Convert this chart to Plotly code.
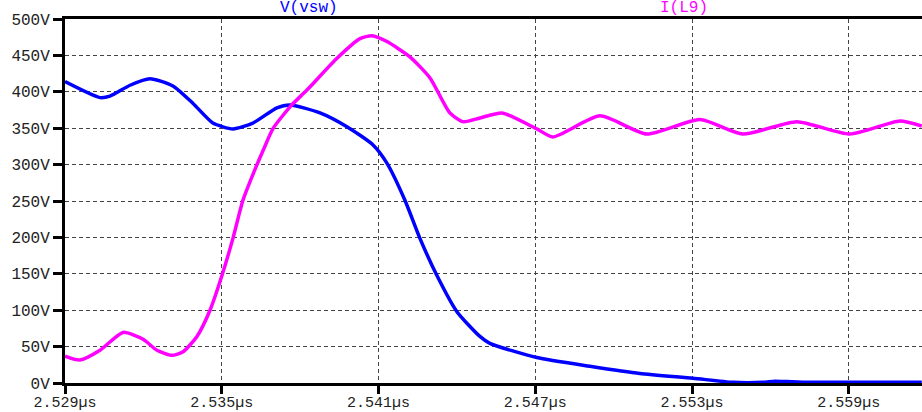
import plotly.graph_objects as go

# Time in microseconds
vsw_t = [2.52900, 2.53034, 2.53072, 2.53149, 2.53225, 2.53313, 2.53390, 2.53466,
         2.53543, 2.53619, 2.53711, 2.53761, 2.53876, 2.53979, 2.54079, 2.54132,
         2.54201, 2.54258, 2.54323, 2.54400, 2.54488, 2.54526, 2.54706, 2.54909,
         2.55100, 2.55303, 2.55456, 2.55571, 2.55617, 2.55663, 2.55750, 2.56179]
vsw_v = [414, 392, 394, 409, 418, 408, 384, 357,
         349, 357, 378, 382, 371, 352, 327, 302,
         251, 199, 148, 98, 64, 54.5, 35, 23,
         13, 6.5, 1, 1, 2.5, 2, 1, 1]

il9_t = [2.52900, 2.52957, 2.53034, 2.53122, 2.53199, 2.53252, 2.53309, 2.53352,
         2.53405, 2.53455, 2.53501, 2.53543, 2.53581, 2.53621, 2.53659, 2.53697,
         2.53768, 2.53825, 2.53941, 2.54029, 2.54075, 2.54132, 2.54220, 2.54297,
         2.54373, 2.54423, 2.54488, 2.54572, 2.54706, 2.54767, 2.54947, 2.55127,
         2.55330, 2.55494, 2.55701, 2.55904, 2.56095, 2.56179]
il9_v = [37, 31.6, 45, 69.5, 60, 45, 38, 43,
         64, 100, 148, 199, 251, 288, 320, 350,
         382, 402, 446, 473, 477, 469, 448, 419,
         371, 359, 364, 371, 349, 338, 367, 342,
         362, 342, 359, 342, 360, 353]

x_tickvals = [2.529, 2.535, 2.541, 2.547, 2.553, 2.559]
x_ticktext = ["2.529µs", "2.535µs", "2.541µs", "2.547µs", "2.553µs", "2.559µs"]
y_tickvals = [0, 50, 100, 150, 200, 250, 300, 350, 400, 450, 500]
y_ticktext = ["0V", "50V", "100V", "150V", "200V", "250V", "300V", "350V", "400V", "450V", "500V"]

FONT = "Liberation Mono"

fig = go.Figure()
fig.add_trace(go.Scatter(x=vsw_t, y=vsw_v, mode="lines", name="V(vsw)",
                         line=dict(color="#0000ff", width=3.5, shape="spline", smoothing=0.6)))
fig.add_trace(go.Scatter(x=il9_t, y=il9_v, mode="lines", name="I(L9)",
                         line=dict(color="#ff00ff", width=3.5, shape="spline", smoothing=0.6)))

grid = dict(showgrid=True, gridcolor="#444444", gridwidth=1, griddash="4px,3px")

fig.update_layout(
    width=922, height=412,
    margin=dict(l=65, r=0, t=19, b=29),
    paper_bgcolor="white", plot_bgcolor="white",
    showlegend=False,
    font=dict(family=FONT, size=16, color="#222222"),
    xaxis=dict(range=[2.529, 2.5618], tickvals=x_tickvals, ticktext=x_ticktext,
               showline=True, linecolor="black", linewidth=3, mirror=True,
               ticks="outside", ticklen=8, tickwidth=3, tickcolor="black",
               ticklabelstandoff=-5, tickfont=dict(size=15),
               zeroline=False, automargin=False, **grid),
    yaxis=dict(range=[0, 500], tickvals=y_tickvals, ticktext=y_ticktext,
               showline=True, linecolor="black", linewidth=3,
               ticks="outside", ticklen=9, tickwidth=3, tickcolor="black",
               zeroline=False, automargin=False, **grid),
    annotations=[
        dict(text="V(vsw)", xref="paper", yref="paper", x=0.2485, y=1.03,
             yanchor="middle", showarrow=False,
             font=dict(family=FONT, size=16, color="#0000ff")),
        dict(text="I(L9)", xref="paper", yref="paper", x=0.7526, y=1.03,
             yanchor="middle", showarrow=False,
             font=dict(family=FONT, size=16, color="#ff00ff")),
    ],
)

# remove the default 8px page margin so the figure fills the window exactly
fig.write_html("out.html", config={"displayModeBar": False},
               post_script="document.body.style.margin='0';")
